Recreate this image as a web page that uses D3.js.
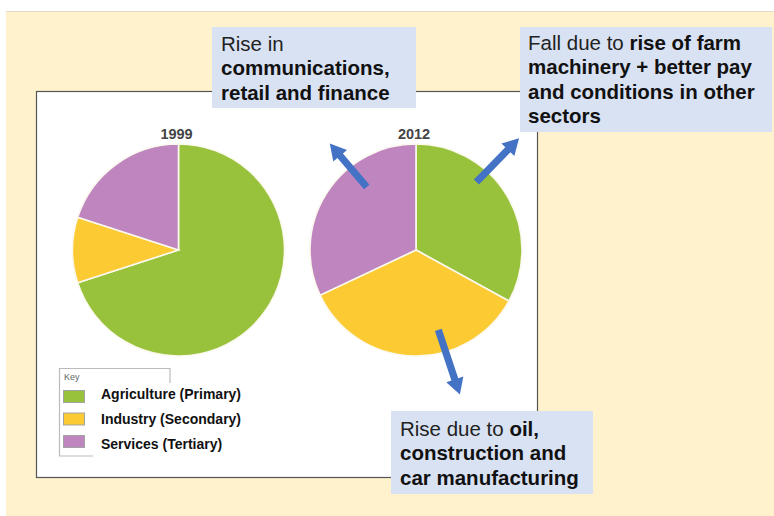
<!DOCTYPE html>
<html>
<head>
<meta charset="utf-8">
<script src="https://cdn.jsdelivr.net/npm/d3@7"></script>
<style>
  body { margin: 0; background: #fff; }
  svg { display: block; font-family: "Liberation Sans", Arial, sans-serif; }
</style>
</head>
<body>
<div class="chart"></div>
<script>
// data
const categories = ['Agriculture (Primary)', 'Industry (Secondary)', 'Services (Tertiary)'];
const years = ['1999', '2012'];
const values1999 = [70, 10, 20];
const values2012 = [33, 35, 32];
const colors = ['#98c23c', '#fccb33', '#be85bf'];

// callout texts, each line is a list of [text, bold]
const callouts = [
  [[['Rise in', false]], [['communications,', true]], [['retail and finance', true]]],
  [[['Fall due to ', false], ['rise of farm', true]], [['machinery + better pay', true]],
   [['and conditions in other', true]], [['sectors', true]]],
  [[['Rise due to ', false], ['oil,', true]], [['construction and', true]], [['car manufacturing', true]]]
];
// arrows on the 2012 pie: [tail angle, tail radius, tip angle, tip radius] (degrees, clockwise from top)
const arrows = [[322, 80, 321, 137], [41.6, 91, 42.7, 152], [164.4, 83, 163.1, 151]];

const width = 774, height = 516;
const radius = 106;
const cy = 250;

const svg = d3.select('.chart')
  .append('svg')
    .attr('width', width)
    .attr('height', height);

// cream backdrop
svg.append('rect')
  .attr('x', 6).attr('y', 11)
  .attr('width', width - 6).attr('height', height - 11)
  .attr('fill', '#fff2cc');
svg.append('line')
  .attr('x1', 6).attr('x2', width).attr('y1', 11.5).attr('y2', 11.5)
  .attr('stroke', '#e2dcc8');

// white chart panel
svg.append('rect')
  .attr('x', 36.5).attr('y', 91.5)
  .attr('width', 501).attr('height', 386)
  .attr('fill', '#fff')
  .attr('stroke', '#555')
  .attr('stroke-width', 1.2);

const xScale = d3.scalePoint().domain(years).range([178.5, 416]);
const pie = d3.pie().sort(null);
const arc = d3.arc().innerRadius(0).outerRadius(radius);

const series = [values1999, values2012];
years.forEach((yr, i) => {
  const g = svg.append('g')
    .attr('transform', `translate(${xScale(yr)}, ${cy})`);
  g.selectAll('path')
    .data(pie(series[i]))
    .enter()
    .append('path')
      .attr('d', arc)
      .attr('fill', (d, j) => colors[j])
      .attr('stroke', '#fbf8ee')
      .attr('stroke-width', 1.6);
  g.append('text')
    .attr('x', -2)
    .attr('y', -radius - 5)
    .attr('text-anchor', 'middle')
    .attr('font-size', 14.5)
    .attr('font-weight', 'bold')
    .attr('fill', '#444')
    .text(yr);
});

// legend (partial frame like the scanned original)
const lg = svg.append('g').attr('transform', 'translate(59, 368)');
lg.append('path')
  .attr('d', 'M111,15 V0.5 H0.5 V88 H34')
  .attr('fill', 'none')
  .attr('stroke', '#bbb')
  .attr('stroke-width', 1.2);
lg.append('text')
  .attr('x', 5).attr('y', 12)
  .attr('font-size', 9)
  .attr('fill', '#666')
  .text('Key');
const legendY = d3.scalePoint().domain(categories).range([22, 67]);
const labelY = d3.scalePoint().domain(categories).range([31, 81]);
categories.forEach((c, i) => {
  lg.append('rect')
    .attr('x', 4.5).attr('y', legendY(c) + 0.5)
    .attr('width', 21).attr('height', 12)
    .attr('fill', colors[i])
    .attr('stroke', '#a3a3a3');
  lg.append('text')
    .attr('x', 42).attr('y', labelY(c))
    .attr('font-size', 14)
    .attr('font-weight', 'bold')
    .attr('fill', '#111')
    .text(c);
});

// arrows
const centre2012 = [xScale('2012'), cy];
function arrowPath(a) {
  const t = d3.pointRadial(a[0] * Math.PI / 180, a[1]);
  const h = d3.pointRadial(a[2] * Math.PI / 180, a[3]);
  const dx = h[0] - t[0], dy = h[1] - t[1];
  const len = Math.hypot(dx, dy);
  const ux = dx / len, uy = dy / len, nx = -uy, ny = ux;
  const sw = 3.6, hw = 9, hl = 16;
  const bx = h[0] - ux * hl, by = h[1] - uy * hl;
  const pts = [
    [t[0] + nx * sw, t[1] + ny * sw],
    [bx + nx * sw, by + ny * sw],
    [bx + nx * hw, by + ny * hw],
    [h[0], h[1]],
    [bx - nx * hw, by - ny * hw],
    [bx - nx * sw, by - ny * sw],
    [t[0] - nx * sw, t[1] - ny * sw]
  ];
  return 'M' + pts.map(p => p.join(',')).join('L') + 'Z';
}
svg.append('g')
  .attr('transform', `translate(${centre2012[0]}, ${centre2012[1]})`)
  .selectAll('path')
  .data(arrows)
  .enter()
  .append('path')
    .attr('d', arrowPath)
    .attr('fill', '#4472c4');

// callout boxes
const boxes = [
  { x: 212, y: 27, w: 204, h: 81, tx: 221, ty: 51 },
  { x: 520, y: 27, w: 252, h: 105, tx: 528, ty: 50 },
  { x: 391, y: 411, w: 202, h: 83, tx: 400, ty: 436 }
];
callouts.forEach((lines, i) => {
  const b = boxes[i];
  svg.append('rect')
    .attr('x', b.x).attr('y', b.y)
    .attr('width', b.w).attr('height', b.h)
    .attr('fill', '#d9e2f3');
  const t = svg.append('text')
    .attr('font-size', 20.5)
    .attr('fill', '#111');
  lines.forEach((line, k) => {
    line.forEach((part, m) => {
      const ts = t.append('tspan')
        .attr('font-weight', part[1] ? 'bold' : 'normal')
        .attr('fill', part[1] ? '#111' : '#222')
        .text(part[0]);
      if (m === 0) ts.attr('x', b.tx).attr('y', b.ty + k * 24.3);
    });
  });
});
</script>
</body>
</html>
